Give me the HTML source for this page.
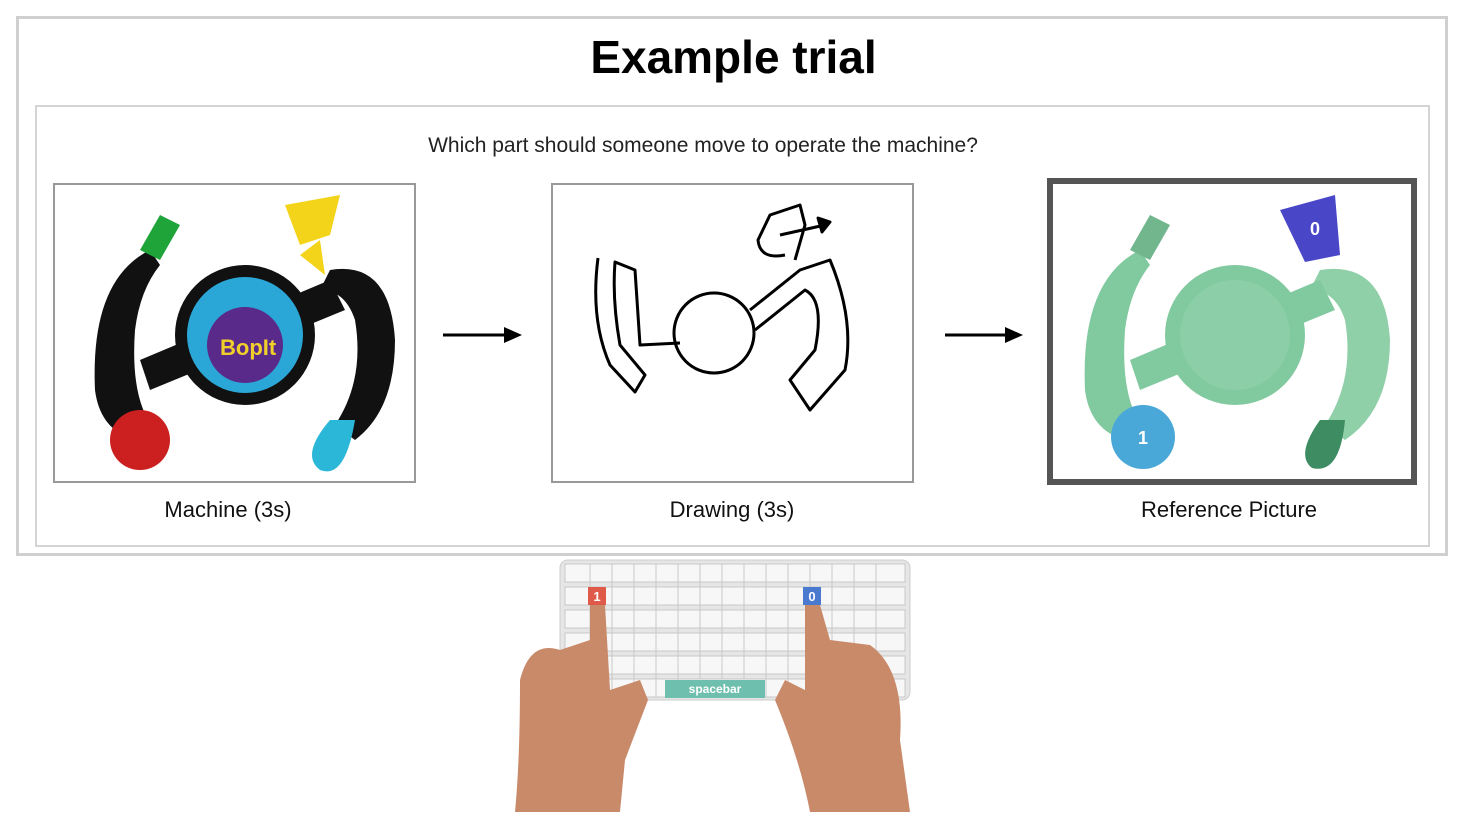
<!DOCTYPE html>
<html><head><meta charset="utf-8"><style>
html,body{margin:0;padding:0;background:#fff;width:1467px;height:824px;overflow:hidden;font-family:"Liberation Sans",sans-serif;}
.abs{position:absolute;}
.lbl{position:absolute;font-size:22px;color:#111;text-align:center;width:400px;}
</style></head><body>
<div class="abs" style="left:16px;top:16px;width:1426px;height:534px;border:3px solid #cfcfcf;"></div>
<div class="abs" style="left:0;top:30px;width:1467px;text-align:center;font-size:46px;font-weight:bold;color:#000;">Example trial</div>
<div class="abs" style="left:35px;top:105px;width:1391px;height:438px;border:2px solid #d4d4d4;"></div>
<div class="abs" style="left:403px;top:134px;width:600px;text-align:center;font-size:21px;color:#222;">Which part should someone move to operate the machine?</div>

<div class="abs" style="left:53px;top:183px;width:359px;height:296px;border:2px solid #999;"></div>
<div class="abs" style="left:551px;top:183px;width:359px;height:296px;border:2px solid #999;"></div>
<div class="abs" style="left:1047px;top:178px;width:358px;height:295px;border:6px solid #555;"></div>

<div class="lbl" style="left:28px;top:497px;">Machine (3s)</div>
<div class="lbl" style="left:532px;top:497px;">Drawing (3s)</div>
<div class="lbl" style="left:1029px;top:497px;">Reference Picture</div>

<svg class="abs" style="left:0;top:0" width="1467" height="824">
<line x1="443" y1="335" x2="510" y2="335" stroke="#000" stroke-width="3"/>
<polygon points="522,335 504,327 504,343" fill="#000"/>
<line x1="945" y1="335" x2="1011" y2="335" stroke="#000" stroke-width="3"/>
<polygon points="1023,335 1005,327 1005,343" fill="#000"/>

<g>
<path d="M150,250 Q90,280 95,390 Q100,430 135,440 L155,430 Q130,400 135,330 Q140,290 160,265 Z" fill="#111"/>
<path d="M330,270 Q390,260 395,340 Q395,410 355,440 L335,425 Q365,380 355,320 Q345,290 320,290 Z" fill="#111"/>
<path d="M140,360 L330,280 L345,310 L150,390 Z" fill="#111"/>
<circle cx="245" cy="335" r="70" fill="#111"/>
<circle cx="245" cy="335" r="58" fill="#2aa7d6"/>
<circle cx="245" cy="345" r="38" fill="#5a2a8a"/>
<text x="220" y="355" font-size="22" font-weight="bold" fill="#f2d02a" font-family="Liberation Sans">BopIt</text>
<path d="M140,250 L160,215 L180,225 L160,260 Z" fill="#1fa43a"/>
<path d="M285,205 L340,195 L330,235 L300,245 Z" fill="#f3d41a"/>
<path d="M300,255 L320,240 L325,275 Z" fill="#f3d41a"/>
<circle cx="140" cy="440" r="30" fill="#cc1f1f"/>
<path d="M330,420 L355,420 Q345,480 320,470 Q300,455 330,420 Z" fill="#2bb7d8"/>
</g>

<g fill="none" stroke="#000" stroke-width="3" stroke-linejoin="round">
<path d="M598,258 Q590,320 610,365 L635,392 L645,375 L620,345 Q612,300 615,262 L635,270 L640,345 L680,343"/>
<circle cx="714" cy="333" r="40"/>
<path d="M750,310 L800,270 L830,260 Q855,320 845,370 L810,410 L790,380 L815,350 Q825,300 805,290 L755,330"/>
<path d="M785,255 Q760,260 758,240 L770,215 L800,205 L805,225 L795,260 M780,235 L825,225"/>
<polygon points="830,222 818,218 822,232" fill="#000"/>
</g>

<g opacity="0.85">
<path d="M1140,250 Q1080,280 1085,390 Q1090,430 1125,440 L1145,430 Q1120,400 1125,330 Q1130,290 1150,265 Z" fill="#6cc08f"/>
<path d="M1320,270 Q1385,260 1390,340 Q1390,410 1345,440 L1325,425 Q1355,380 1345,320 Q1335,290 1310,290 Z" fill="#7cc89b"/>
<path d="M1130,360 L1320,280 L1335,310 L1140,390 Z" fill="#6cc08f"/>
<circle cx="1235" cy="335" r="70" fill="#6cc08f"/>
<circle cx="1235" cy="335" r="55" fill="#78c69a"/>
<path d="M1130,250 L1150,215 L1170,225 L1150,260 Z" fill="#5aaa7a"/>
</g>
<path d="M1280,210 L1335,195 L1340,255 L1305,262 Z" fill="#4a46c8"/>
<text x="1315" y="235" font-size="18" font-weight="bold" fill="#fff" text-anchor="middle" font-family="Liberation Sans">0</text>
<circle cx="1143" cy="437" r="32" fill="#4aa8d8"/>
<text x="1143" y="444" font-size="18" font-weight="bold" fill="#fff" text-anchor="middle" font-family="Liberation Sans">1</text>
<path d="M1320,420 L1345,420 Q1340,475 1312,468 Q1295,455 1320,420 Z" fill="#3e8c62"/>

<rect x="560" y="560" width="350" height="140" rx="8" fill="#e6e6e6" stroke="#ccc"/>
<g fill="#f7f7f7" stroke="#c8c8c8">
<rect x="565" y="564" width="340" height="18"/>
<rect x="565" y="587" width="340" height="18"/>
<rect x="565" y="610" width="340" height="18"/>
<rect x="565" y="633" width="340" height="18"/>
<rect x="565" y="656" width="340" height="18"/>
<rect x="565" y="679" width="340" height="18"/>
</g>
<g stroke="#c8c8c8" stroke-width="1">
<path d="M590,564v133 M612,564v133 M634,564v133 M656,564v133 M678,564v133 M700,564v115 M722,564v115 M744,564v115 M766,564v133 M788,564v133 M810,564v133 M832,564v133 M854,564v133 M876,564v133"/>
</g>
<rect x="665" y="680" width="100" height="18" fill="#6fbfae"/>
<text x="715" y="693" font-size="12" font-weight="bold" fill="#fff" text-anchor="middle" font-family="Liberation Sans">spacebar</text>
<rect x="588" y="587" width="18" height="18" fill="#e05a4a"/>
<text x="597" y="601" font-size="13" font-weight="bold" fill="#fff" text-anchor="middle" font-family="Liberation Sans">1</text>
<rect x="803" y="587" width="18" height="18" fill="#4a7ad0"/>
<text x="812" y="601" font-size="13" font-weight="bold" fill="#fff" text-anchor="middle" font-family="Liberation Sans">0</text>

<path d="M590,605 L605,605 L610,690 L640,680 L648,700 L625,760 L620,812 L515,812 Q520,760 520,680 Q530,640 560,650 L590,640 Z" fill="#c98a6a"/>
<path d="M805,605 L820,605 L830,640 L870,645 Q905,670 900,740 L910,812 L810,812 Q800,760 775,700 L785,680 L805,690 Z" fill="#c98a6a"/>
</svg>
</body></html>
